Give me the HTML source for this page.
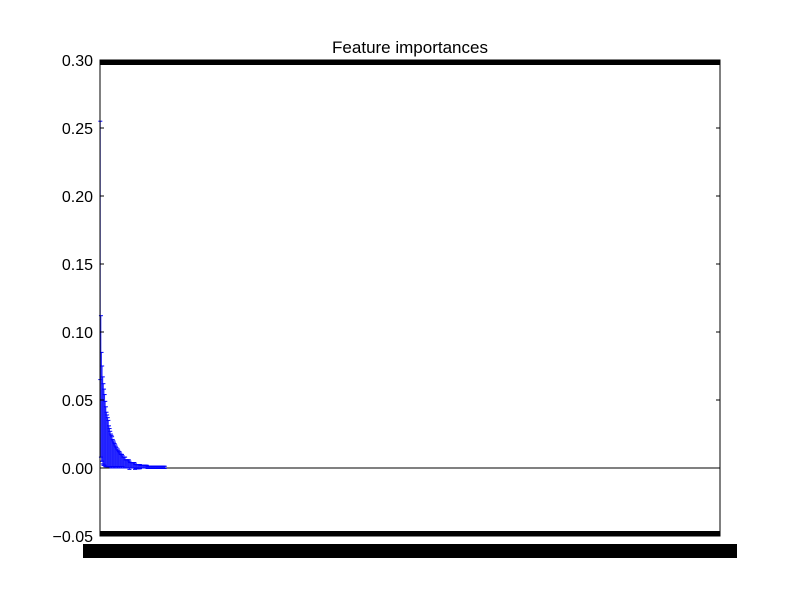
<!DOCTYPE html>
<html><head><meta charset="utf-8"><style>
html,body{margin:0;padding:0;background:#fff;}
svg{display:block;font-family:"Liberation Sans","DejaVu Sans",sans-serif;}
</style></head><body>
<svg id="chart" width="800" height="597" viewBox="0 0 800 597">
<rect width="800" height="597" fill="#fff"/>
<text x="410" y="53" font-size="17" text-anchor="middle">Feature importances</text>
<g id="plot"></g>
</svg>
<script>
const featureCount = 1000;
const yTicks = [-0.05, 0, 0.05, 0.10, 0.15, 0.20, 0.25, 0.30];
const yTickLabels = ["\u22120.05","0.00","0.05","0.10","0.15","0.20","0.25","0.30"];
const importances = [0.160,0.060,0.045,0.040,0.035,0.032,0.030,0.028,0.025,0.023,0.021,0.020,0.019,0.018,0.016,0.015,0.014,0.013,0.012,0.012,0.011,0.010,0.010,0.009,0.009,0.008,0.008,0.007,0.007,0.007,0.006,0.006,0.006,0.005,0.005,0.005,0.005,0.004,0.004,0.004,0.004,0.003,0.003,0.003,0.003,0.003,0.003,0.002,0.002,0.002,0.002,0.002,0.002,0.002,0.002,0.002,0.001,0.001,0.001,0.001,0.001,0.001,0.001,0.001,0.001,0.001,0.001,0.001,0.001,0.001,0.001,0.001,0.001,0.001,0.001,0.001,0.0005,0.0005,0.0005,0.0005,0.0005,0.0005,0.0005,0.0005,0.0005,0.0005,0.0005,0.0005,0.0005,0.0005,0.0005,0.0005,0.0005,0.0005,0.0005,0.0005,0.0005,0.0005,0.0005,0.0005,0.0005,0.0005,0.0005,0.0005,0.0005];
const stds = [0.095,0.052,0.040,0.035,0.032,0.030,0.028,0.026,0.024,0.022,0.020,0.019,0.018,0.017,0.015,0.014,0.013,0.012,0.012,0.011,0.010,0.010,0.009,0.009,0.008,0.008,0.007,0.007,0.007,0.006,0.006,0.006,0.005,0.005,0.005,0.005,0.004,0.004,0.004,0.004,0.004,0.003,0.003,0.003,0.003,0.003,0.003,0.003,0.002,0.002,0.002,0.002,0.002,0.002,0.002,0.002,0.002,0.0015,0.0015,0.0015,0.0015,0.0015,0.0015,0.0015,0.0015,0.001,0.001,0.001,0.001,0.001,0.001,0.001,0.001,0.001,0.001,0.001,0.0008,0.0008,0.0008,0.0008,0.0008,0.0008,0.0008,0.0008,0.0008,0.0008,0.0008,0.0008,0.0008,0.0008,0.0008,0.0008,0.0008,0.0008,0.0008,0.0008,0.0008,0.0008,0.0008,0.0008,0.0008,0.0008,0.0008,0.0008,0.0008];

const NS="http://www.w3.org/2000/svg";
const L=100,R=720,T=60,B=536;
const yMin=-0.05,yMax=0.30;
function yScale(v){return B-(v-yMin)/(yMax-yMin)*(B-T);}
function xScale(i){return L+(i+0.5)/featureCount*(R-L);}
const plot=document.getElementById('plot');
function mk(tag,attrs){const e=document.createElementNS(NS,tag);for(const k in attrs)e.setAttribute(k,attrs[k]);plot.appendChild(e);return e;}

const base=mk('line',{x1:L,x2:R,y1:yScale(0),y2:yScale(0),stroke:'#000','stroke-width':1});



for(let i=0;i<importances.length;i++){
  const x=xScale(i),v=importances[i],s=stds[i];
  const bw=(R-L)/featureCount*0.8;
  const bar=mk('rect',{x:x-bw/2,y:Math.min(yScale(v),yScale(0)),width:bw,height:Math.abs(yScale(0)-yScale(v)),fill:'none'});
  
  
  const eb=mk('line',{x1:x,x2:x,y1:yScale(v-s),y2:yScale(v+s),stroke:'#0000ff','stroke-width':0.8,'stroke-opacity':0.85});
  
  
  const c1=mk('line',{x1:x-2,x2:x+2,y1:yScale(v+s),y2:yScale(v+s),stroke:'#0000ff','stroke-width':1});
  
  
  const c2=mk('line',{x1:x-2,x2:x+2,y1:yScale(v-s),y2:yScale(v-s),stroke:'#0000ff','stroke-width':1});
  
  
}

const frame=mk('rect',{x:L,y:T,width:R-L,height:B-T,fill:'none',stroke:'#000','stroke-width':1});



yTicks.forEach((t,k)=>{
  const y=yScale(t);
  const a=mk('line',{x1:L,x2:L+4,y1:y,y2:y,stroke:'#000'});
  
  
  const b=mk('line',{x1:R-4,x2:R,y1:y,y2:y,stroke:'#000'});
  
  
  const tx=mk('text',{x:L-7,y:y+6,'font-size':16,'text-anchor':'end'});
  tx.textContent=yTickLabels[k];
  
  
});

const tb=mk('rect',{x:L,y:T,width:R-L,height:5,fill:'#000'});


const bb=mk('rect',{x:L,y:B-5,width:R-L,height:5,fill:'#000'});


const lb=mk('rect',{x:83,y:544,width:654,height:14,fill:'#000'});


for(let i=0;i<featureCount;i+=25){
  const tx=mk('text',{x:xScale(i),y:557,'font-size':16,'text-anchor':'middle',fill:'#000'});
  tx.textContent=String(i);
  
  
}
</script>
</body></html>
